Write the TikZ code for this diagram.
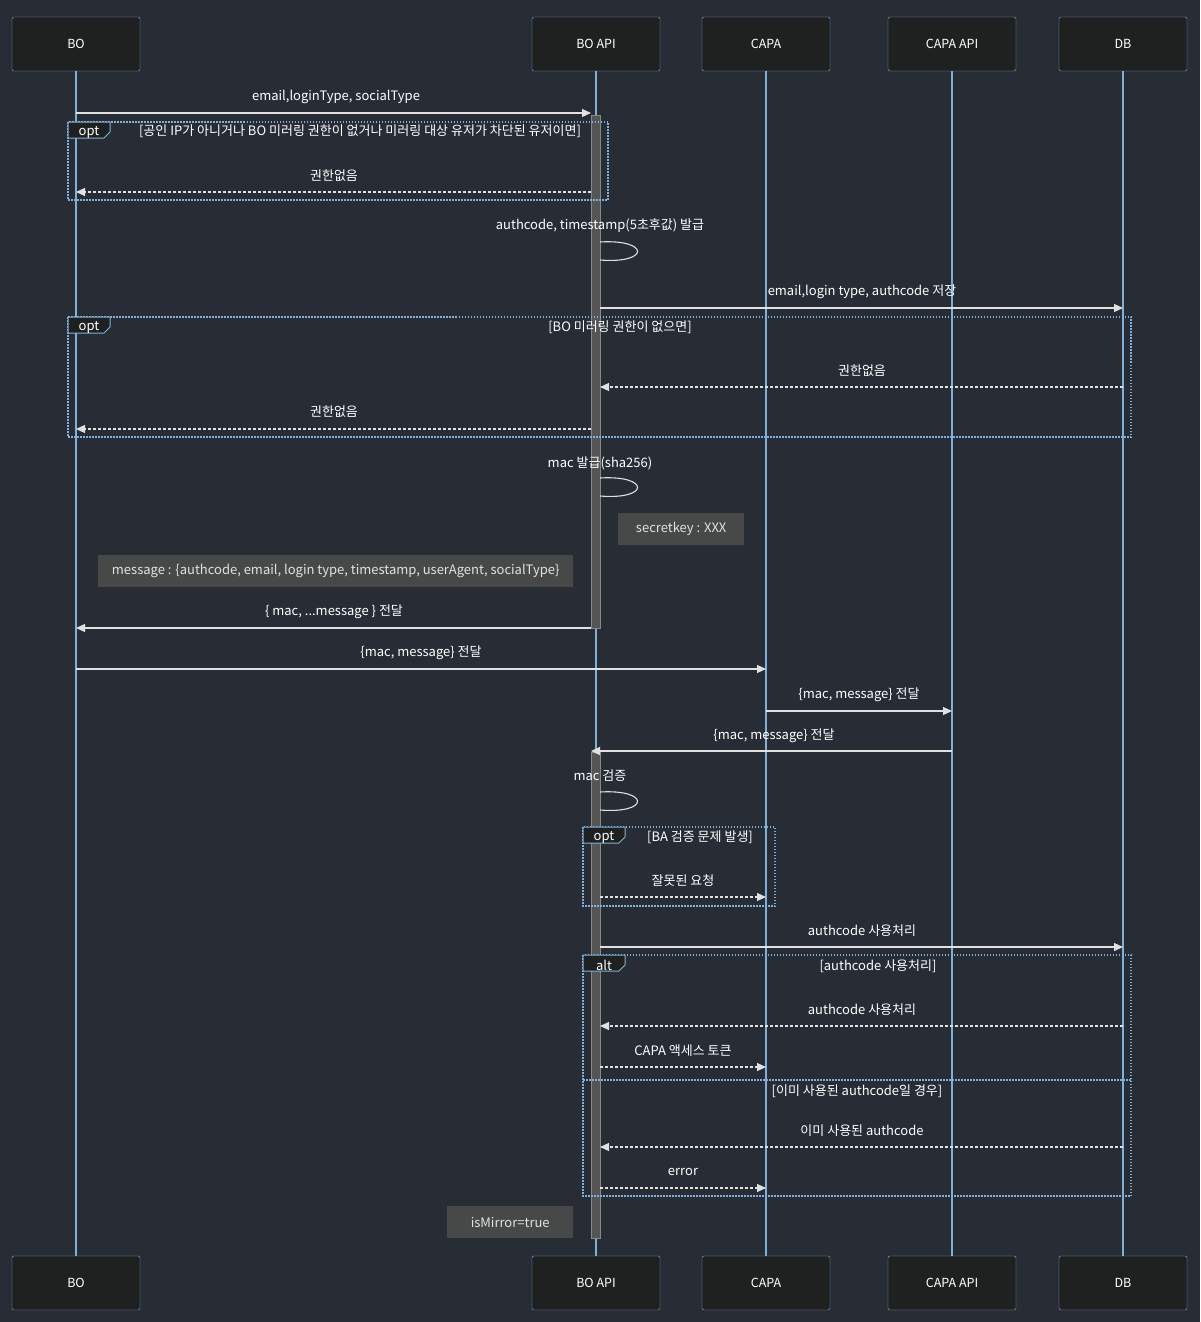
\documentclass[tikz,border=0pt]{standalone}
\usepackage{fontspec}
\setmainfont{Noto Sans CJK KR}
\usetikzlibrary{arrows.meta,calc}
\definecolor{bg}{RGB}{40,44,52}
\definecolor{actfill}{RGB}{31,32,32}
\definecolor{lblue}{RGB}{129,177,219}
\definecolor{msg}{RGB}{225,225,225}
\definecolor{notef}{RGB}{71,73,73}
\definecolor{actv}{RGB}{85,85,85}
\tikzset{
 actor/.style={draw=lblue,fill=actfill,minimum width=128pt,minimum height=54pt,rounded corners=2pt,text=white,font=\fontsize{12.5}{15}\selectfont,inner sep=0pt},
 lbl/.style={text=white,font=\fontsize{13}{15}\selectfont,inner sep=0pt},
 solidmsg/.style={draw=msg,line width=1.1pt,-{Triangle[length=9pt,width=8pt]}},
 dashmsg/.style={draw=msg,line width=1.1pt,dash pattern=on 3pt off 2pt,-{Triangle[length=9pt,width=8pt]}},
 frame/.style={draw=lblue,line width=1.4pt,dash pattern=on 1.5pt off 1.5pt},
 notebox/.style={fill=notef,text=msg,font=\fontsize{13}{15}\selectfont,inner sep=0pt,anchor=north west},
 actbox/.style={fill=actv,draw=msg!60!black,line width=0.5pt},
 tab/.style={fill=actfill,draw=lblue,line width=1pt},
 life/.style={draw=lblue,line width=1.2pt}
}
\newcommand{\tabat}[3]{% x y text
 \draw[tab] (#1,#2) -- ++(42,0) -- ++(0,10) -- ++(-6,6) -- ++(-36,0) -- cycle;
 \node[lbl] at (#1+21,#2+10) {#3};}
\newcommand{\selfloop}[2]{% y-label y-loop
 \draw[msg,line width=1.1pt] (600,#2) .. controls (650,#2-3) and (650,#2+22) .. (600,#2+18);}
\begin{document}
\begin{tikzpicture}[x=1pt,y=-1pt]
\fill[bg] (0,0) rectangle (1200,1322);
\useasboundingbox (0,0) rectangle (1200,1322);
% lifelines
\foreach \x in {76,596,766,952,1123} \draw[life] (\x,71) -- (\x,1256);
% actors
\foreach \n/\x/\t in {bo/76/BO,boapi/596/BO API,capa/766/CAPA,capaapi/952/CAPA API,db/1123/DB}{
 \node[actor] (\n) at (\x,44) {\t};
 \node[actor] (\n b) at (\x,1283) {\t};}
% activations
\fill[actbox] (591,115) rectangle (600,628);
\fill[actbox] (591,752) rectangle (600,1238);
% msg 1
\draw[solidmsg] (76,113) -- (591,113);
\node[lbl] at (336,97) {email,loginType, socialType};
% opt 1
\draw[frame] (68,122) rectangle (608,200);
\tabat{68}{122}{opt}
\node[lbl] at (360,131) {[공인 IP가 아니거나 BO 미러링 권한이 없거나 미러링 대상 유저가 차단된 유저이면]};
\draw[dashmsg] (591,192) -- (76,192);
\node[lbl] at (334,176) {권한없음};
% self loop 1
\node[lbl] at (600,226) {authcode, timestamp(5초후값) 발급};
\selfloop{226}{242}
% to DB
\draw[solidmsg] (600,308) -- (1123,308);
\node[lbl] at (862,292) {email,login type, authcode 저장};
% opt 2
\draw[frame] (68,317) rectangle (1131,437);
\tabat{68}{317}{opt}
\node[lbl] at (620,327) {[BO 미러링 권한이 없으면]};
\draw[dashmsg] (1123,387) -- (600,387);
\node[lbl] at (862,371) {권한없음};
\draw[dashmsg] (591,429) -- (76,429);
\node[lbl] at (334,412) {권한없음};
% mac
\node[lbl] at (600,463) {mac 발급(sha256)};
\selfloop{463}{478}
\node[notebox,minimum width=126pt,minimum height=32pt] (n1) at (618,513) {secretkey : XXX};
\node[notebox,minimum width=475pt,minimum height=32pt] (n2) at (98,555) {message : \{authcode, email, login type, timestamp, userAgent, socialType\}};
\draw[solidmsg] (591,628) -- (76,628);
\node[lbl] at (334,612) {\{ mac, ...message \} 전달};
\draw[solidmsg] (76,669) -- (766,669);
\node[lbl] at (421,653) {\{mac, message\} 전달};
\draw[solidmsg] (766,711) -- (952,711);
\node[lbl] at (859,695) {\{mac, message\} 전달};
\draw[solidmsg] (952,751) -- (591,751);
\node[lbl] at (774,736) {\{mac, message\} 전달};
\node[lbl] at (600,776) {mac 검증};
\selfloop{776}{792}
% opt 3
\draw[frame] (583,827) rectangle (775,906);
\tabat{583}{827}{opt}
\node[lbl] at (700,837) {[BA 검증 문제 발생]};
\draw[dashmsg] (600,897) -- (766,897);
\node[lbl] at (683,881) {잘못된 요청};
\draw[solidmsg] (600,947) -- (1123,947);
\node[lbl] at (862,931) {authcode 사용처리};
% alt
\draw[frame] (583,955) rectangle (1131,1196);
\draw[frame] (583,1080) -- (1131,1080);
\tabat{583}{955}{alt}
\node[lbl] at (878,966) {[authcode 사용처리]};
\draw[dashmsg] (1123,1026) -- (600,1026);
\node[lbl] at (862,1010) {authcode 사용처리};
\draw[dashmsg] (600,1067) -- (766,1067);
\node[lbl] at (683,1051) {CAPA 액세스 토큰};
\node[lbl] at (857,1091) {[이미 사용된 authcode일 경우]};
\draw[dashmsg] (1123,1147) -- (600,1147);
\node[lbl] at (862,1131) {이미 사용된 authcode};
\draw[dashmsg] (600,1188) -- (766,1188);
\node[lbl] at (683,1172) {error};
\node[notebox,minimum width=126pt,minimum height=32pt] (n3) at (447,1206) {isMirror=true};
\end{tikzpicture}
\end{document}
